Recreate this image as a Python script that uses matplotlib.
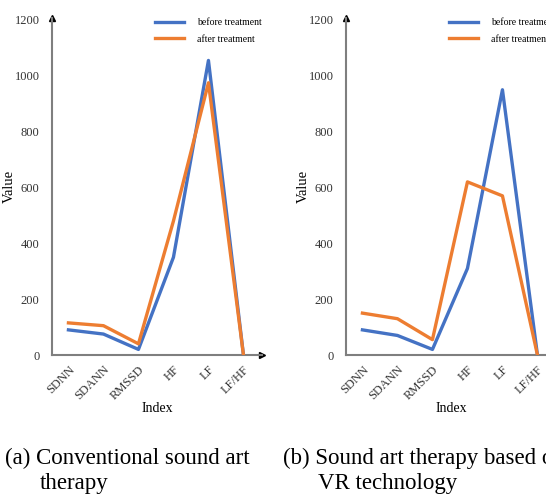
import numpy as np
import matplotlib.pyplot as plt

plt.rcParams['font.family'] = ['Liberation Serif', 'DejaVu Serif']

categories = ['SDNN', 'SDANN', 'RMSSD', 'HF', 'LF', 'LF/HF']
before_a = [90, 75, 20, 350, 1055, 0]
after_a = [115, 105, 40, 480, 975, 0]
before_b = [90, 70, 20, 310, 950, 0]
after_b = [150, 130, 55, 620, 570, 0]
yticks = [0, 200, 400, 600, 800, 1000, 1200]

blue = '#4472C4'
orange = '#ED7D31'
grey = '#7f7f7f'

fig = plt.figure(figsize=(5.46, 4.95), dpi=100)
W, H = 546, 495


def panel(x0, before, after):
    ax = fig.add_axes([x0 / W, (H - 355) / H, 210 / W, 337 / H])
    xs = np.arange(len(categories))
    ax.plot(xs, before, color=blue, lw=2.4, label='before treatment', zorder=3)
    ax.plot(xs, after, color=orange, lw=2.4, label='after treatment', zorder=3)
    ax.set_xlim(-0.47, 5.53)
    ax.set_ylim(0, 1207)
    ax.set_xticks(xs)
    ax.set_xticklabels(categories, rotation=45, ha='right', rotation_mode='anchor', fontsize=9)
    ax.set_yticks(yticks)
    ax.set_yticklabels([str(v) for v in yticks], fontsize=9)
    ax.tick_params(length=0, pad=9, colors='#333333')
    ax.tick_params(axis='x', pad=6)
    for s in ['top', 'right']:
        ax.spines[s].set_visible(False)
    for s in ['left', 'bottom']:
        ax.spines[s].set_color(grey)
        ax.spines[s].set_linewidth(1.5)
    # arrow heads
    ax.plot(1, 0, '>', color='black', ms=5, transform=ax.transAxes, clip_on=False)
    ax.plot(0, 1, '^', color='black', ms=5, transform=ax.transAxes, clip_on=False)
    ax.set_ylabel('Value', fontsize=10.5)
    ax.yaxis.set_label_coords(-0.171, 0.5)
    ax.set_xlabel('Index', fontsize=10, labelpad=0)
    ax.legend(loc='upper left', bbox_to_anchor=(0.45, 1.025), frameon=False,
              fontsize=7, handlelength=3.0, handletextpad=1.3, labelspacing=0.75)
    return ax


panel(52, before_a, after_a)
panel(346, before_b, after_b)

fs = 16.5
fig.text(5 / W, 1 - 458 / H, '(a) Conventional sound art', fontsize=fs, va='center')
fig.text(40 / W, 1 - 484 / H, 'therapy', fontsize=fs, va='center')
fig.text(283 / W, 1 - 458 / H, '(b) Sound art therapy based on', fontsize=fs, va='center')
fig.text(318 / W, 1 - 484 / H, 'VR technology', fontsize=fs, va='center')

fig.savefig('out.png', dpi=100)
